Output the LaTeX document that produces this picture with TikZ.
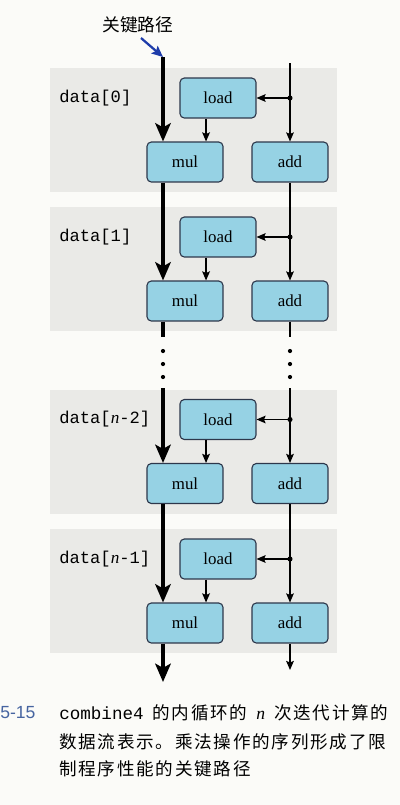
\documentclass[tikz,border=0pt]{standalone}
\usepackage{fontspec}
\setmainfont{Liberation Serif}
\setmonofont{Liberation Mono}
\setsansfont{Liberation Sans}
\newfontfamily\cjk{Noto Sans CJK SC}
\newfontfamily\cjksp[LetterSpace=10]{Noto Sans CJK SC}
\usetikzlibrary{arrows.meta}
\definecolor{bgcol}{RGB}{251,251,248}
\definecolor{bandcol}{RGB}{234,234,231}
\definecolor{boxfill}{RGB}{150,210,228}
\definecolor{boxdraw}{RGB}{45,55,75}
\definecolor{keyblue}{RGB}{30,60,170}
\definecolor{numblue}{RGB}{70,100,160}
\tikzset{
  opbox/.style={draw=boxdraw, fill=boxfill, line width=0.8pt, rounded corners=3pt,
    minimum width=54pt, minimum height=28.4pt, inner sep=0pt,
    font=\fontsize{12}{14}\selectfont},
  datalabel/.style={anchor=west, inner sep=0pt, font=\ttfamily\fontsize{12.2}{14}\selectfont},
  critline/.style={line width=3.5pt},
  crit/.style={line width=3.5pt, -{Stealth[width=11pt,length=13pt,inset=3pt]}},
  thinline/.style={line width=0.8pt},
  thinarr/.style={line width=0.8pt, -{Stealth[width=5.5pt,length=6.5pt,inset=1.2pt]}},
  bluearr/.style={keyblue, line width=1.6pt, -{Stealth[width=7pt,length=8pt,inset=1.5pt]}},
  captext/.style={anchor=west, inner sep=0pt, font=\fontsize{12.5}{15}\selectfont}
}
\begin{document}
\begin{tikzpicture}[x=0.025cm,y=-0.025cm]
\useasboundingbox (0,0) rectangle (400,805);
\fill[bgcol] (0,0) rectangle (400,805);

\foreach \i/\y/\lab in {1/98/{data[0]}, 2/237/{data[1]}, 3/419.5/{data[{\rmfamily\itshape n}-2]}, 4/559/{data[{\rmfamily\itshape n}-1]}}{
  \fill[bandcol] (50,\y-30) rectangle (337,\y+94);
  \node[opbox] (load\i) at (218,\y) {load};
  \node[opbox] (mul\i) at (185,\y+64) {mul};
  \node[opbox] (add\i) at (290,\y+64) {add};
  \node[datalabel] (lab\i) at (59,\y) {\lab};
  \coordinate (j\i) at (290,\y);
  \draw[thinarr] (j\i) -- (load\i.east);
  \draw[thinarr] ([xshift=-8.5pt]load\i.south) -- ([xshift=-8.5pt]load\i.south |- mul\i.north);
}

% critical path label
\node[inner sep=0pt, font=\cjk\fontsize{12.6}{14}\selectfont] (kp) at (138,25) {关键路径};
\coordinate (bs) at (141,38);
\coordinate (top) at (163,57);
\coordinate (rtop) at (290,63);
\draw[bluearr] (bs) -- (top);

% left thick chain
\draw[crit] (top) -- (top |- mul1.north);
\draw[crit] (mul1.south -| top) -- (mul2.north -| top);
\coordinate (c1) at (163,337);
\coordinate (c2) at (163,388);
\draw[critline] (mul2.south -| top) -- (c1);
\draw[crit] (c2) -- (mul3.north -| top);
\draw[crit] (mul3.south -| top) -- (mul4.north -| top);
\coordinate (bot) at (163,682);
\draw[crit] (mul4.south -| top) -- (bot);

% right chain
\draw[thinarr] (rtop) -- (add1.north);
\draw[thinarr] (add1.south) -- (add2.north);
\coordinate (r1) at (290,337);
\coordinate (r2) at (290,388);
\draw[thinline] (add2.south) -- (r1);
\draw[thinarr] (r2) -- (add3.north);
\draw[thinarr] (add3.south) -- (add4.north);
\coordinate (rbot) at (290,670);
\draw[thinarr] (add4.south) -- (rbot);

% junction dots
\foreach \i in {1,2,3,4} { \fill (j\i) circle (1.8pt); }

% ellipsis dots
\foreach \yy in {351,364,377} {
  \fill (163,\yy) circle (1.5pt);
  \fill (290,\yy) circle (1.5pt);
}

% caption
\node[captext, text=numblue, font=\sffamily\fontsize{12.5}{15}\selectfont] (fignum) at (0,713) {5-15};
\node[captext] (cap1) at (59,713) {\hbox to 234pt{\texttt{combine4}\hfil{\cjksp 的内循环的}\hfil{\itshape n}\hfil{\cjksp 次迭代计算的}}};
\node[captext] (cap2) at (59,742) {\cjksp 数据流表示。乘法操作的序列形成了限};
\node[captext] (cap3) at (59,769) {\cjksp 制程序性能的关键路径};
\end{tikzpicture}
\end{document}
